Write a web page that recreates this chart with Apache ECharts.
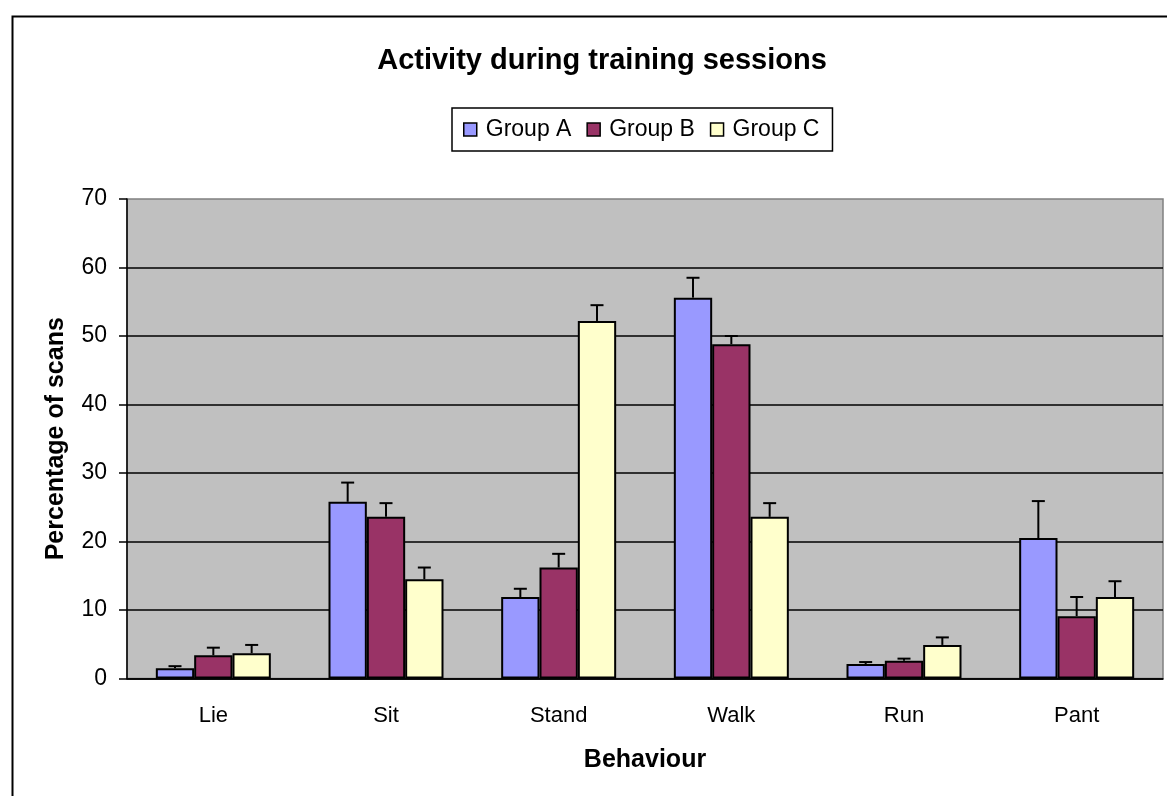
<!DOCTYPE html>
<html>
<head>
<meta charset="utf-8">
<script src="https://cdn.jsdelivr.net/npm/echarts@6/dist/echarts.min.js"></script>
<style>
html,body{margin:0;padding:0;background:#fff;}
#c{width:1167px;height:796px;}
</style>
</head>
<body>
<div id="c"></div>
<script>
const categories = ['Lie', 'Sit', 'Stand', 'Walk', 'Run', 'Pant'];
const seriesNames = ['Group A', 'Group B', 'Group C'];
const groupA = [1.5, 25.8, 11.9, 55.6, 2.1, 20.5];
const groupB = [3.4, 23.6, 16.2, 48.8, 2.6, 9.1];
const groupC = [3.7, 14.5, 52.2, 23.6, 4.9, 11.9];
const errA = [0.3, 2.8, 1.2, 2.9, 0.3, 5.4];
const errB = [1.1, 2.0, 2.0, 1.2, 0.3, 2.8];
const errC = [1.2, 1.7, 2.3, 2.0, 1.1, 2.3];
const yTicks = [0, 10, 20, 30, 40, 50, 60, 70];

const colors = ['#9999FF', '#993366', '#FFFFCC'];
const values = [groupA, groupB, groupC];
const errs = [errA, errB, errC];
const gapPct = 0.334;
const FONT = 'Liberation Sans, Arial, sans-serif';

const chart = echarts.init(document.getElementById('c'));

const errData = [];
values.forEach((vals, s) => {
  vals.forEach((v, i) => errData.push([i, v, errs[s][i], s]));
});

const series = values.map((vals, s) => ({
  name: seriesNames[s],
  type: 'bar',
  data: vals,
  barGap: '0%',
  barCategoryGap: (gapPct * 100) + '%',
  itemStyle: { color: colors[s], borderColor: '#000', borderWidth: 2 },
  emphasis: { disabled: true },
  z: 2
}));

series.push({
  type: 'custom',
  data: errData,
  z: 3,
  silent: true,
  renderItem: function (params, api) {
    const cat = api.value(0), v = api.value(1), e = api.value(2), s = api.value(3);
    const catW = api.size([1, 0])[0];
    const bw = catW * (1 - gapPct) / 3;
    const off = (s - 1) * bw;
    const p0 = api.coord([cat, v]);
    const p1 = api.coord([cat, v + e]);
    const x = p0[0] + off;
    const style = { stroke: '#000', lineWidth: 2 };
    return {
      type: 'group',
      children: [
        { type: 'line', shape: { x1: x, y1: p0[1], x2: x, y2: p1[1] }, style: style },
        { type: 'line', shape: { x1: x - 6.5, y1: p1[1], x2: x + 6.5, y2: p1[1] }, style: style }
      ]
    };
  }
});

chart.setOption({
  animation: false,
  title: {
    text: 'Activity during training sessions',
    left: 597, top: 41, textAlign: 'center',
    textStyle: { fontFamily: FONT, fontSize: 29, fontWeight: 'bold', color: '#000' }
  },
  legend: {
    data: seriesNames.map((n, s) => ({ name: n, itemStyle: { color: colors[s], borderColor: '#000', borderWidth: 1.5 } })),
    left: 452, top: 108,
    icon: 'rect', itemWidth: 13, itemHeight: 13, itemGap: 15,
    borderColor: '#000', borderWidth: 1.5, padding: [10, 13, 10, 11],
    textStyle: { fontFamily: FONT, fontSize: 23, color: '#000', padding: [0, 0, 0, 4] }
  },
  grid: {
    left: 127, top: 199, right: 4, bottom: 117.5,
    show: true, backgroundColor: '#C0C0C0', borderColor: '#808080', borderWidth: 1.5
  },
  xAxis: {
    type: 'category',
    data: categories,
    name: 'Behaviour', nameLocation: 'middle', nameGap: 69,
    nameTextStyle: { fontFamily: FONT, fontSize: 25, fontWeight: 'bold', color: '#000' },
    axisLine: { lineStyle: { color: '#000', width: 1.5 } },
    axisTick: { length: 8, lineStyle: { color: '#000', width: 1.5 } },
    axisLabel: { fontFamily: FONT, fontSize: 22, color: '#000', margin: 26 }
  },
  yAxis: {
    type: 'value', min: yTicks[0], max: yTicks[yTicks.length - 1], interval: yTicks[1] - yTicks[0],
    name: 'Percentage of scans', nameLocation: 'middle', nameGap: 58,
    nameTextStyle: { fontFamily: FONT, fontSize: 25, fontWeight: 'bold', color: '#000' },
    axisLine: { show: true, lineStyle: { color: '#000', width: 1.5 } },
    axisTick: { show: true, length: 8, lineStyle: { color: '#000', width: 1.5 } },
    axisLabel: { fontFamily: FONT, fontSize: 23, color: '#000', margin: 20 },
    splitLine: { show: true, showMaxLine: false, lineStyle: { color: '#000', width: 1.5 } }
  },
  graphic: [{
    type: 'rect', left: 10, top: 14, silent: true,
    shape: { width: 1200, height: 820 },
    style: { fill: 'none', stroke: '#000', lineWidth: 2 }, z: 100
  }],
  series: series
});
</script>
</body>
</html>
